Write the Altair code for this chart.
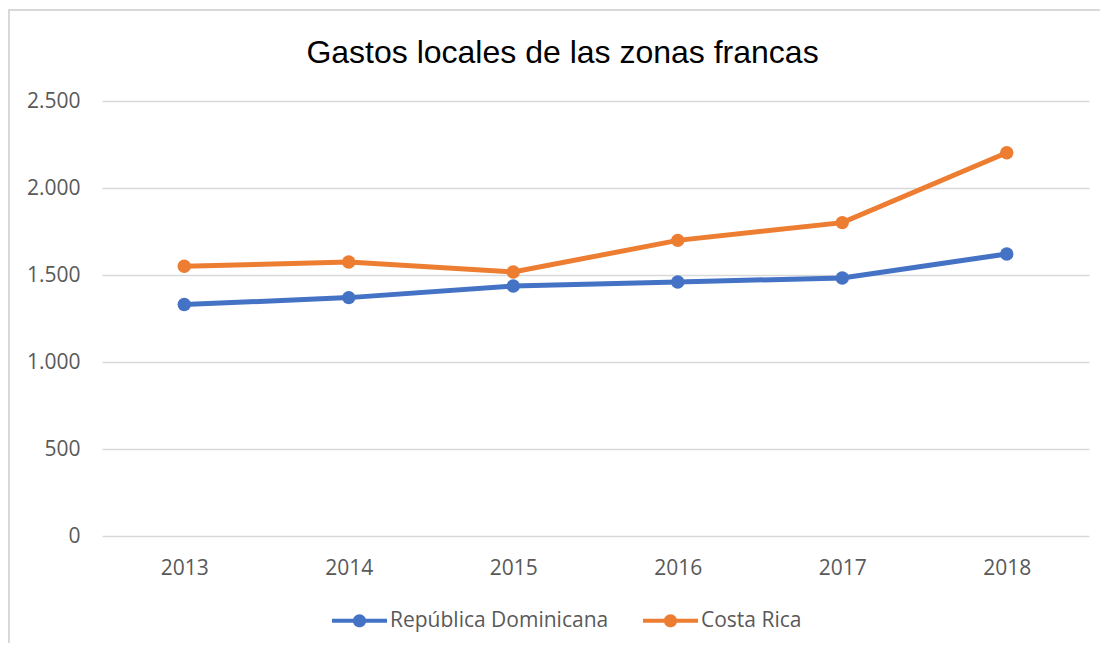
import altair as alt
import pandas as pd

years = ["2013", "2014", "2015", "2016", "2017", "2018"]
rd_values = [1330, 1370, 1437, 1460, 1483, 1621]
cr_values = [1550, 1575, 1517, 1699, 1801, 2203]
series_names = ["República Dominicana", "Costa Rica"]
series_colors = ["#4472C4", "#ED7D31"]
y_ticks = [0, 500, 1000, 1500, 2000, 2500]

df = pd.DataFrame({
    "year": years * 2,
    "value": rd_values + cr_values,
    "serie": [series_names[0]] * len(years) + [series_names[1]] * len(years),
})

FONT = "Open Sans"
GREY = "#595959"

legend_symbol = (
    "M-1,-0.075 L1,-0.075 L1,0.075 L-1,0.075 Z "
    "M0.24,0 A0.24,0.24 0 1,1 -0.24,0 A0.24,0.24 0 1,1 0.24,0 Z"
)

color = alt.Color(
    "serie:N",
    scale=alt.Scale(domain=series_names, range=series_colors),
    legend=alt.Legend(
        title=None,
        orient="none",
        legendX=230,
        legendY=492,
        direction="horizontal",
        symbolType=legend_symbol,
        symbolSize=3025,
        symbolStrokeWidth=0,
        symbolOpacity=1,
        labelFont=FONT,
        labelFontSize=21,
        labelColor=GREY,
        labelOffset=3,
        columnPadding=34,
        padding=0,
        labelLimit=400,
    ),
)

x = alt.X(
    "year:O",
    sort=years,
    title=None,
    axis=alt.Axis(
        labelAngle=0,
        labelFont=FONT,
        labelFontSize=21,
        labelColor=GREY,
        labelPadding=21,
        ticks=False,
        domain=False,
        grid=False,
    ),
)
y = alt.Y(
    "value:Q",
    title=None,
    scale=alt.Scale(domain=[0, 2500], nice=False),
    axis=alt.Axis(
        values=y_ticks,
        labelExpr="replace(format(datum.value, ','), ',', '.')",
        labelFont=FONT,
        labelFontSize=21,
        labelColor=GREY,
        labelPadding=22,
        ticks=False,
        domain=False,
        grid=True,
        gridColor="#D9D9D9",
        gridWidth=1.5,
    ),
)

base = alt.Chart(df)
lines = base.mark_line(strokeWidth=5).encode(x=x, y=y, color=color, detail="serie:N")
points = base.mark_point(filled=True, size=180, opacity=1).encode(x=x, y=y, color=color)

frame_data = alt.Chart(pd.DataFrame({"k": [0]}))
frame_left = frame_data.mark_rule(color="#D9D9D9", strokeWidth=2).encode(
    x=alt.value(-93), y=alt.value(-91), y2=alt.value(700)
)
frame_top = frame_data.mark_rule(color="#D9D9D9", strokeWidth=2).encode(
    y=alt.value(-91), x=alt.value(-94), x2=alt.value(1100)
)

chart = (
    alt.layer(frame_left, frame_top, lines, points)
    .properties(
        width=987,
        height=435,
        title=alt.TitleParams(
            "Gastos locales de las zonas francas",
            font="Liberation Sans",
            fontSize=32,
            fontWeight="normal",
            color="#000000",
            anchor="middle",
            frame="group",
            baseline="alphabetic",
            dx=-33,
            offset=-86,
        ),
        autosize=alt.AutoSizeParams(type="none"),
        padding={"left": 94, "top": 93, "right": 11, "bottom": 107},
        background="white",
    )
    .configure_view(stroke=None)
)

chart.save("out.html", embed_options={"renderer": "svg", "actions": False})
